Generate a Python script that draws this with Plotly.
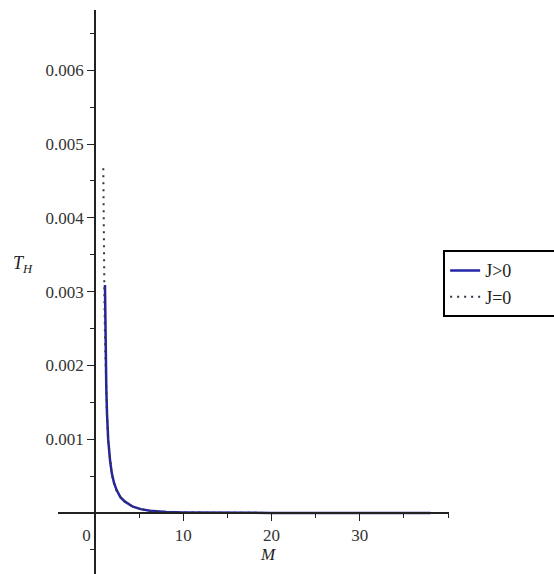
import plotly.graph_objects as go

# Hawking temperature T_H versus mass M
m_rot = [1.13, 1.17, 1.22, 1.28, 1.36, 1.5, 1.7, 1.9, 2.15, 2.45, 2.9, 3.4,
         4.3, 5.2, 6.2, 8.1, 10, 14, 20, 28, 38]
t_rot = [0.00309, 0.0026, 0.0021, 0.0017, 0.00135, 0.00099, 0.00072, 0.00054,
         0.00041, 0.00031, 0.00021, 0.000153, 0.000085, 0.000052, 0.000031,
         0.000012, 0.000006, 0.000002, 0.0000008, 0.0000003, 0.0000001]

m_static = [0.94, 0.96, 0.99, 1.03, 1.08, 1.13, 1.2, 1.28, 1.36, 1.5, 1.7, 1.9,
            2.15, 2.45, 2.9, 3.4, 4.3, 5.2, 6.2, 8.1, 10, 14, 20, 28, 38]
t_static = [0.00467, 0.0041, 0.0036, 0.0032, 0.0028, 0.0024, 0.0020, 0.0016,
            0.0013, 0.00096, 0.0007, 0.00053, 0.0004, 0.0003, 0.00021, 0.00015,
            0.000083, 0.00005, 0.00003, 0.000012, 0.000006, 0.000002,
            0.0000008, 0.0000003, 0.0000001]

x_ticks = [0, 10, 20, 30]
x_ticktext = ["0\u2002\u2002", "10", "20", "30"]
y_ticks = [0.001, 0.002, 0.003, 0.004, 0.005, 0.006]
y_ticktext = ["0.001", "0.002", "0.003", "0.004", "0.005", "0.006"]

X_RANGE = [-4.19, 40.1]
Y_RANGE = [-0.000827, 0.006816]

FONT = "'Liberation Serif', 'Times New Roman', Times, 'DejaVu Serif', serif"
AXIS_COLOR = "#222222"
PAD = "\u00a0" * 10  # widens the legend box past the right edge

fig = go.Figure()
fig.add_trace(go.Scatter(x=m_rot, y=t_rot, mode="lines", name="J&gt;0" + PAD,
                         line=dict(color="#2424a6", width=2.5)))
fig.add_trace(go.Scatter(x=m_static, y=t_static, mode="lines", name="J=0" + PAD,
                         line=dict(color="#333344", width=2, dash="2px,5px")))

# axes cross at the origin
x_pos = (0 - X_RANGE[0]) / (X_RANGE[1] - X_RANGE[0])
y_pos = (0 - Y_RANGE[0]) / (Y_RANGE[1] - Y_RANGE[0])

fig.update_layout(
    width=554, height=574,
    margin=dict(l=58, r=105, t=10, b=0, autoexpand=False),
    paper_bgcolor="white", plot_bgcolor="white",
    font=dict(family=FONT, size=16, color="#333333"),
    showlegend=True,
    legend=dict(x=0.985, y=0.574, xanchor="left", yanchor="top",
                bordercolor="black", borderwidth=2, bgcolor="white",
                font=dict(family=FONT, size=18, color="#222222"),
                tracegroupgap=0),
    xaxis=dict(range=X_RANGE, anchor="free", position=y_pos,
               showline=True, linecolor=AXIS_COLOR, linewidth=1.5,
               showgrid=False, zeroline=False,
               tickmode="array", tickvals=x_ticks, ticktext=x_ticktext,
               tickfont=dict(family=FONT, size=17, color="#333333"),
               ticks="outside", ticklen=7, tickcolor=AXIS_COLOR, tickwidth=1,
               minor=dict(tickmode="linear", tick0=0, dtick=5, ticks="outside",
                          ticklen=4, tickcolor=AXIS_COLOR, showgrid=False)),
    yaxis=dict(range=Y_RANGE, anchor="free", position=x_pos,
               showline=True, linecolor=AXIS_COLOR, linewidth=1.5,
               showgrid=False, zeroline=False,
               tickmode="array", tickvals=y_ticks, ticktext=y_ticktext,
               tickfont=dict(family=FONT, size=17, color="#333333"),
               ticks="outside", ticklen=7, tickcolor=AXIS_COLOR, tickwidth=1,
               minor=dict(tickmode="linear", tick0=0, dtick=0.0005, ticks="outside",
                          ticklen=4, tickcolor=AXIS_COLOR, showgrid=False)),
    annotations=[
        dict(text="<i>T</i><sub><i>H</i></sub>", xref="paper", yref="paper",
             x=-0.0895, y=0.5496, xanchor="center", yanchor="middle",
             showarrow=False,
             font=dict(family=FONT, size=18, color="#222222")),
        dict(text="<i>M</i>", xref="paper", yref="paper",
             x=0.537, y=0.0337, xanchor="center", yanchor="middle",
             showarrow=False,
             font=dict(family=FONT, size=17, color="#222222")),
    ],
)

fig.write_html("out.html")
